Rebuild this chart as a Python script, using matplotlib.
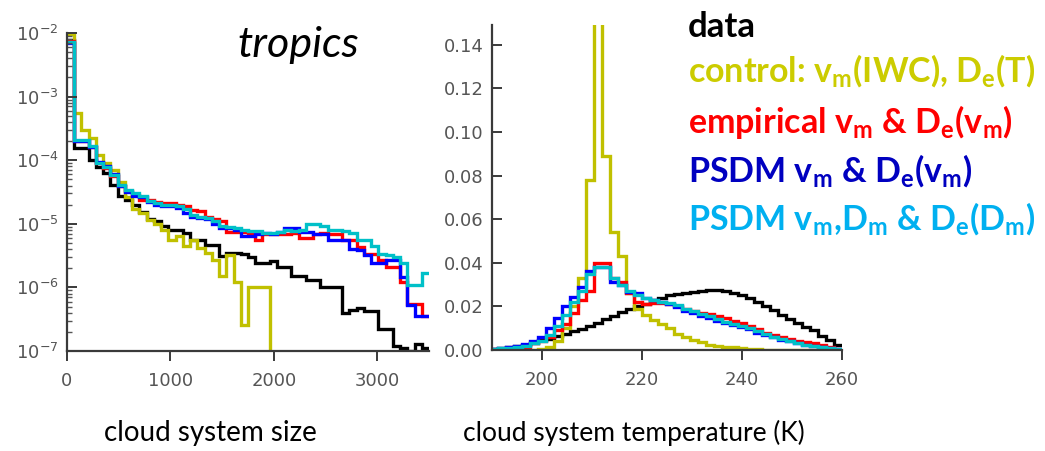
import numpy as np
import matplotlib
matplotlib.use("Agg")
import matplotlib.pyplot as plt

# ---- left panel: cloud system size histograms (log y), bins of 70
size_edges = np.arange(51) * 70.0
size_data = [7.9e-3, 1.55e-4, 1.55e-4, 1.0e-4, 7.9e-5, 6.3e-5, 4.1e-5, 2.7e-5, 2.4e-5, 2.0e-5,
             1.55e-5, 1.2e-5, 1.1e-5, 9.1e-6, 8.0e-6, 8.0e-6, 7.1e-6, 5.6e-6, 5.6e-6, 4.6e-6,
             4.6e-6, 3.1e-6, 3.5e-6, 3.5e-6, 3.3e-6, 3.0e-6, 2.4e-6, 2.4e-6, 2.6e-6, 2.1e-6,
             2.1e-6, 1.5e-6, 1.5e-6, 1.3e-6, 1.3e-6, 1.0e-6, 1.0e-6, 1.0e-6, 3.9e-7, 4.4e-7,
             4.7e-7, 4.2e-7, 4.2e-7, 2.2e-7, 2.2e-7, 1.2e-7, 1.1e-7, 1.0e-7, 1.3e-7, 1.1e-7]
size_control = [9.5e-3, 5.5e-4, 3.0e-4, 2.2e-4, 1.2e-4, 9.0e-5, 7.0e-5, 4.5e-5, 2.6e-5, 1.7e-5,
                1.5e-5, 1.15e-5, 1.0e-5, 8.0e-6, 5.6e-6, 6.5e-6, 4.4e-6, 5.6e-6, 4.2e-6, 3.5e-6,
                2.7e-6, 1.5e-6, 3.2e-6, 1.2e-6, 2.6e-7, 1.0e-6, 1.0e-6, 1.0e-6] + [1e-12] * 22
size_empirical = [7.5e-3, 2.0e-4, 2.0e-4, 1.6e-4, 9.0e-5, 7.5e-5, 5.6e-5, 4.0e-5, 3.3e-5, 2.8e-5,
                  2.4e-5, 2.4e-5, 2.2e-5, 2.1e-5, 2.1e-5, 2.0e-5, 1.9e-5, 1.65e-5, 1.6e-5, 1.3e-5,
                  1.2e-5, 1.1e-5, 7.5e-6, 7.5e-6, 7.4e-6, 7.2e-6, 5.6e-6, 6.8e-6, 6.8e-6, 6.8e-6,
                  6.8e-6, 7.2e-6, 6.0e-6, 6.0e-6, 6.8e-6, 7.2e-6, 7.0e-6, 7.0e-6, 5.6e-6, 5.6e-6,
                  4.3e-6, 3.4e-6, 3.4e-6, 2.7e-6, 2.1e-6, 2.1e-6, 1.2e-6, 5.5e-7, 5.5e-7, 3.5e-7]
size_psdm = [7.0e-3, 2.0e-4, 2.0e-4, 1.6e-4, 9.5e-5, 8.0e-5, 6.0e-5, 4.0e-5, 3.2e-5, 2.7e-5,
             2.6e-5, 2.2e-5, 2.0e-5, 1.9e-5, 1.9e-5, 1.8e-5, 1.5e-5, 1.3e-5, 1.25e-5, 1.2e-5,
             1.0e-5, 8.5e-6, 8.5e-6, 8.0e-6, 6.5e-6, 6.5e-6, 7.0e-6, 7.1e-6, 7.0e-6, 7.5e-6,
             8.5e-6, 8.5e-6, 7.5e-6, 7.5e-6, 6.8e-6, 7.0e-6, 5.6e-6, 5.6e-6, 5.6e-6, 4.0e-6,
             3.9e-6, 3.2e-6, 2.4e-6, 2.4e-6, 2.7e-6, 2.7e-6, 1.45e-6, 5.3e-7, 3.5e-7, 3.5e-7]
size_psdm_dm = [7.3e-3, 2.1e-4, 2.1e-4, 1.65e-4, 8.9e-5, 7.9e-5, 5.9e-5, 4.1e-5, 3.4e-5, 3.0e-5,
                2.7e-5, 2.3e-5, 2.1e-5, 2.0e-5, 2.0e-5, 1.9e-5, 1.7e-5, 1.4e-5, 1.3e-5, 1.25e-5,
                1.1e-5, 9.1e-6, 8.8e-6, 8.5e-6, 8.0e-6, 7.8e-6, 7.6e-6, 7.1e-6, 7.1e-6, 7.3e-6,
                8.0e-6, 7.6e-6, 8.0e-6, 1.0e-5, 1.0e-5, 9.1e-6, 8.0e-6, 8.0e-6, 7.6e-6, 7.1e-6,
                5.6e-6, 5.6e-6, 4.4e-6, 3.4e-6, 3.2e-6, 3.0e-6, 2.4e-6, 1.1e-6, 1.1e-6, 1.7e-6]

# ---- right panel: cloud system temperature histograms, bins of 1.6 K
temp_edges = 189.6 + 1.6 * np.arange(45)
temp_data = [0.0005, 0.0008, 0.0012, 0.0017, 0.0024, 0.0033, 0.0045, 0.0052, 0.0062, 0.0072,
             0.0085, 0.0097, 0.0110, 0.0125, 0.0142, 0.0158, 0.0172, 0.0190, 0.0200, 0.0212,
             0.0229, 0.0240, 0.0250, 0.0257, 0.0262, 0.0267, 0.0272, 0.0276, 0.0277, 0.0272,
             0.0262, 0.0250, 0.0238, 0.0220, 0.0200, 0.0183, 0.0160, 0.0140, 0.0125, 0.0105,
             0.0090, 0.0065, 0.0045, 0.0023]
temp_control = [0.0, 0.0, 0.0, 0.0, 0.0, 0.0002, 0.0003, 0.0015, 0.004, 0.010,
                0.020, 0.033, 0.078, 0.22, 0.089, 0.054, 0.043, 0.026, 0.019, 0.016,
                0.0137, 0.012, 0.010, 0.0075, 0.006, 0.0046, 0.0035, 0.0025, 0.002, 0.0016,
                0.0012, 0.0009, 0.0006, 0.0004, 0.0002, 0.0001, 0.0001, 0.0001, 0.0001, 0.0001,
                0.0001, 0.0001, 0.0001, 0.0001]
temp_empirical = [0.0003, 0.0004, 0.0006, 0.001, 0.0015, 0.003, 0.004, 0.006, 0.009, 0.012,
                  0.017, 0.023, 0.027, 0.040, 0.040, 0.033, 0.031, 0.026, 0.022, 0.021,
                  0.0215, 0.0215, 0.021, 0.020, 0.019, 0.018, 0.017, 0.0165, 0.0155, 0.0145,
                  0.0135, 0.0125, 0.011, 0.0095, 0.008, 0.0068, 0.0058, 0.005, 0.0042, 0.0035,
                  0.003, 0.0022, 0.0012, 0.0006]
temp_psdm = [0.0006, 0.0009, 0.0013, 0.002, 0.0028, 0.004, 0.006, 0.010, 0.0145, 0.020,
             0.0245, 0.029, 0.036, 0.038, 0.038, 0.031, 0.030, 0.0267, 0.026, 0.024,
             0.023, 0.022, 0.021, 0.0195, 0.018, 0.017, 0.0155, 0.0145, 0.0135, 0.0125,
             0.0115, 0.0105, 0.0095, 0.008, 0.0068, 0.0058, 0.0048, 0.004, 0.0032, 0.0025,
             0.0018, 0.0012, 0.0007, 0.0003]
temp_psdm_dm = [0.0005, 0.0007, 0.001, 0.0015, 0.002, 0.003, 0.004, 0.007, 0.011, 0.016,
                0.022, 0.027, 0.035, 0.038, 0.038, 0.033, 0.030, 0.027, 0.025, 0.024,
                0.023, 0.022, 0.0215, 0.0205, 0.019, 0.018, 0.0165, 0.0155, 0.014, 0.013,
                0.012, 0.011, 0.010, 0.0085, 0.0072, 0.006, 0.005, 0.004, 0.0032, 0.0025,
                0.0018, 0.0012, 0.0007, 0.0003]

line_colors = ["black", "#c0c000", "#ff0000", "#0000ff", "#00c0c8"]
text_colors = ["black", "#cccc00", "#ff0000", "#0000c0", "#00b0f0"]
labels = ["data",
          r"control: v$_\mathdefault{m}$(IWC), D$_\mathdefault{e}$(T)",
          r"empirical v$_\mathdefault{m}$ & D$_\mathdefault{e}$(v$_\mathdefault{m}$)",
          r"PSDM v$_\mathdefault{m}$ & D$_\mathdefault{e}$(v$_\mathdefault{m}$)",
          r"PSDM v$_\mathdefault{m}$,D$_\mathdefault{m}$ & D$_\mathdefault{e}$(D$_\mathdefault{m}$)"]

W, H = 1045, 451
fig = plt.figure(figsize=(W / 100, H / 100), dpi=100)


def px_axes(x0, y0, x1, y1):
    return fig.add_axes([x0 / W, 1 - y1 / H, (x1 - x0) / W, (y1 - y0) / H])


def style(ax):
    for s in ["top", "right"]:
        ax.spines[s].set_visible(False)
    for s in ["left", "bottom"]:
        ax.spines[s].set_color("#3a3a3a")
        ax.spines[s].set_linewidth(1.6)
    ax.tick_params(axis="y", direction="in", length=7, width=1.4, color="#3a3a3a",
                   labelsize=13, labelcolor="#555555", pad=6)
    ax.tick_params(axis="x", direction="out", length=7, width=1.4, color="#3a3a3a",
                   labelsize=13, labelcolor="#555555", pad=8)


ax1 = px_axes(67, 33, 429, 351)
size_series = [size_data, size_control, size_empirical, size_psdm, size_psdm_dm]
for vals, c in zip(size_series, line_colors):
    ax1.stairs(vals, size_edges, baseline=None, color=c, linewidth=2.4)
ax1.set_yscale("log")
ax1.set_ylim(1e-7, 1e-2)
ax1.set_xlim(0, 3500)
ax1.set_xticks([0, 1000, 2000, 3000])
style(ax1)
ax1.tick_params(axis="y", which="minor", direction="in", length=3.5, width=1, color="#555555")

ax2 = px_axes(491.7, 25, 841.7, 350)
temp_series = [temp_data, temp_control, temp_empirical, temp_psdm, temp_psdm_dm]
for vals, c in zip(temp_series, line_colors):
    ax2.stairs(vals, temp_edges, baseline=None, color=c, linewidth=2.4)
ax2.set_xlim(190, 260)
ax2.set_ylim(0, 0.149)
ax2.set_xticks([200, 220, 240, 260])
ax2.set_yticks(np.arange(0, 0.141, 0.02))
ax2.yaxis.set_major_formatter(matplotlib.ticker.FormatStrFormatter("%.2f"))
style(ax2)

fig.text(237 / W, 1 - 57 / H, "tropics", family="Lato", style="italic", fontsize=31,
         va="baseline", ha="left")
fig.text(210 / W, 1 - 441 / H, "cloud system size", family="Lato", fontsize=20,
         va="baseline", ha="center")
fig.text(634 / W, 1 - 441 / H, "cloud system temperature (K)", family="Lato", fontsize=19,
         va="baseline", ha="center")

baselines = [37, 82, 133, 182, 230]
for i, (lab, c, yb) in enumerate(zip(labels, text_colors, baselines)):
    fig.text(688 / W, 1 - yb / H, lab, family="Lato", weight="bold",
             fontsize=25 if i == 0 else 24.5, color=c, va="baseline", ha="left")

fig.savefig("out.png", dpi=100)
